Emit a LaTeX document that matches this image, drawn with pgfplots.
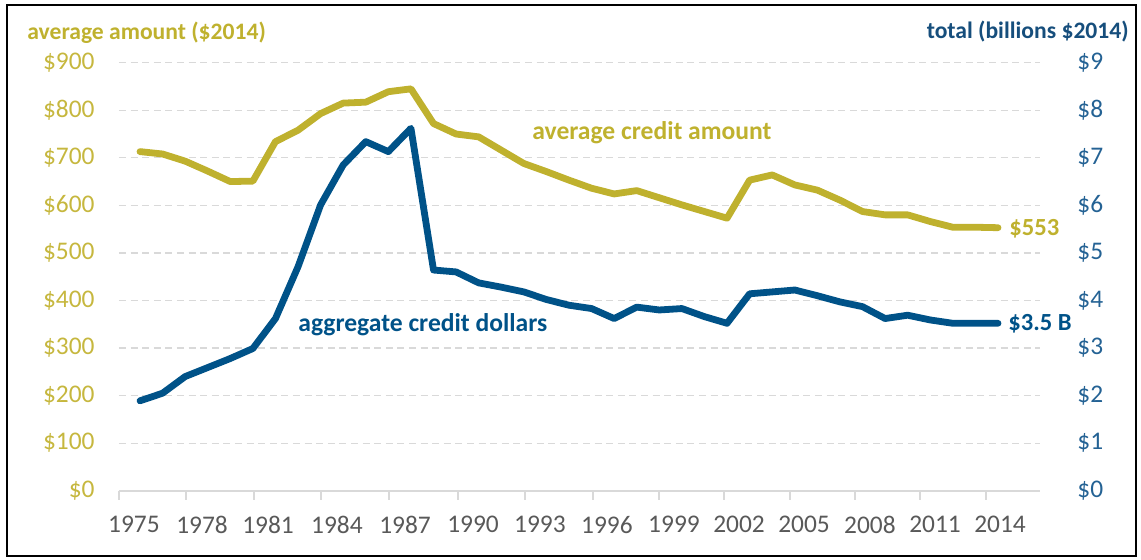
\documentclass[border=0pt]{standalone}
\usepackage{pgfplots}
\usepackage{pgfplotstable}
\pgfplotsset{compat=1.18}
\usepackage{fontspec}
\setmainfont{Carlito}
\definecolor{goldline}{RGB}{191,177,46}
\definecolor{goldtick}{RGB}{198,183,62}
\definecolor{blueline}{RGB}{0,82,136}
\definecolor{bluetick}{RGB}{36,98,148}
\definecolor{bluetitle}{RGB}{22,78,124}
\definecolor{labelgray}{RGB}{89,89,89}
\definecolor{gridgray}{RGB}{217,217,217}

\pgfplotstableread{
year avg total
1976 713 1.89
1977 708 2.05
1978 693 2.40
1979 672 2.59
1980 650 2.78
1981 651 2.99
1982 734 3.62
1983 758 4.71
1984 793 6.01
1985 815 6.85
1986 817 7.34
1987 839 7.13
1988 845 7.62
1989 772 4.64
1990 750 4.60
1991 744 4.37
1992 716 4.28
1993 688 4.18
1994 671 4.02
1995 653 3.90
1996 636 3.83
1997 624 3.62
1998 631 3.86
1999 616 3.80
2000 601 3.83
2001 587 3.66
2002 573 3.52
2003 653 4.14
2004 664 4.18
2005 643 4.22
2006 632 4.10
2007 611 3.97
2008 587 3.87
2009 580 3.62
2010 580 3.69
2011 566 3.59
2012 554 3.52
2013 554 3.52
2014 553 3.52
}\datatable

\begin{document}
\begin{tikzpicture}
\path[use as bounding box] (-59.5pt,-34.65pt) rectangle (511pt,245.35pt);
\draw[line width=1pt, black] (-56pt,-32.65pt) rectangle (508.5pt,242.85pt);
\begin{axis}[
  scale only axis, width=460.5pt, height=214pt,
  xmin=1975.07, xmax=2015.86, ymin=0, ymax=900,
  axis x line*=bottom, axis y line*=left,
  x axis line style={draw=gridgray, line width=0.9pt, -},
  y axis line style={draw=none},
  major tick length=0pt,
  xtick={1975.73,1978.75,1981.67,1984.72,1987.74,1990.75,1993.71,1996.68,1999.65,2002.53,2005.41,2008.33,2011.21,2014.09},
  xticklabels={1975,1978,1981,1984,1987,1990,1993,1996,1999,2002,2005,2008,2011,2014},
  xtick style={draw=gridgray, line width=0.8pt},
  extra x ticks={1975.07,1978.04,1981.05,1984.02,1987.03,1990.08,1993.05,1996.06,1998.98,2001.86,2004.79,2007.67,2010.54,2013.47},
  extra x tick labels={},
  extra x tick style={major tick length=4.5pt, tick align=outside, grid=none},
  xticklabel style={font=\fontsize{12.7}{14}\selectfont, text=labelgray, inner sep=0pt, anchor=center},
  xticklabel shift=17pt,
  ytick={0,100,...,900},
  yticklabels={\$0,\$100,\$200,\$300,\$400,\$500,\$600,\$700,\$800,\$900},
  ytick style={draw=none},
  yticklabel style={font=\fontsize{12.7}{14}\selectfont, text=goldtick, inner sep=0pt, anchor=east},
  yticklabel shift=12pt,
  ymajorgrids,
  major grid style={draw=gridgray, dash pattern=on 3.5pt off 2.3pt, line width=0.6pt},
  clip=false,
]
\addplot[goldline, line width=3.4pt, line join=round, line cap=round] table[x=year,y=avg]{\datatable};
\end{axis}
\begin{axis}[
  scale only axis, width=460.5pt, height=214pt,
  xmin=1975.07, xmax=2015.86, ymin=0, ymax=9,
  axis x line=none, axis y line*=right,
  y axis line style={draw=none},
  major tick length=0pt,
  ytick={0,1,...,9},
  yticklabels={\$0,\$1,\$2,\$3,\$4,\$5,\$6,\$7,\$8,\$9},
  ytick style={draw=none},
  yticklabel style={font=\fontsize{12.7}{14}\selectfont, text=bluetick, inner sep=0pt, anchor=west},
  yticklabel shift=18.5pt,
  clip=false,
]
\addplot[blueline, line width=3.4pt, line join=round, line cap=round] table[x=year,y=total]{\datatable};
\end{axis}
\node[anchor=west, inner sep=0pt, font=\bfseries\fontsize{11.8}{14}\selectfont, text=goldline] at (-46pt,228.85pt) {average amount (\$2014)};
\node[anchor=east, inner sep=0pt, font=\bfseries\fontsize{11.8}{14}\selectfont, text=bluetitle] at (505pt,229.5pt) {total (billions \$2014)};
\node[inner sep=0pt, font=\bfseries\fontsize{12.8}{15}\selectfont, text=goldline] at (266.5pt,178.85pt) {average credit amount};
\node[anchor=west, inner sep=0pt, font=\bfseries\fontsize{12.8}{15}\selectfont, text=blueline] at (89.5pt,82.85pt) {aggregate credit dollars};
\node[anchor=west, inner sep=0pt, font=\bfseries\fontsize{12.3}{15}\selectfont, text=goldline] at (445pt,130.85pt) {\$553};
\node[anchor=west, inner sep=0pt, font=\bfseries\fontsize{12.3}{15}\selectfont, text=blueline] at (444.5pt,83.35pt) {\$3.5 B};
\end{tikzpicture}
\end{document}
